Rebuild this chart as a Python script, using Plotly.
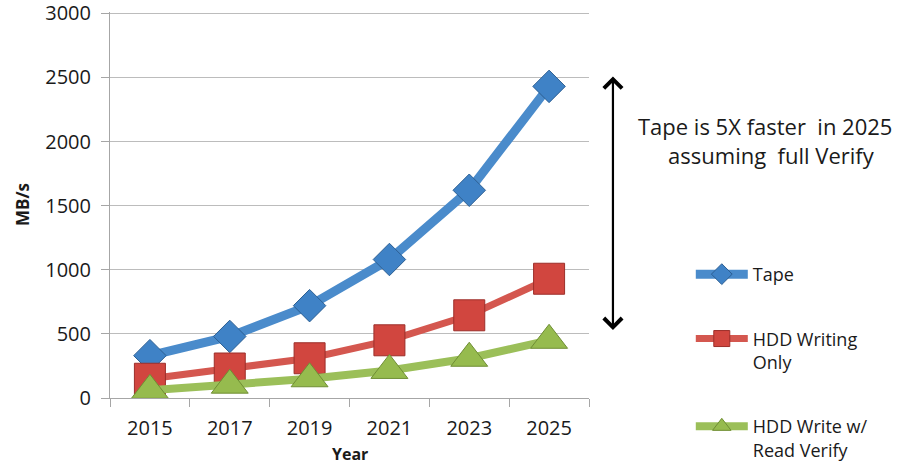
import plotly.graph_objects as go

# Throughput projections (MB/s) by year
years = ["2015", "2017", "2019", "2021", "2023", "2025"]
tape = [330, 480, 720, 1080, 1620, 2430]
hdd_write = [150, 230, 310, 450, 645, 930]
hdd_verify = [60, 100, 150, 215, 310, 450]

y_ticks = [0, 500, 1000, 1500, 2000, 2500, 3000]

FONT = "Open Sans"
TEXT = "#1a1a1a"
AXIS = "#a6a6a6"

fig = go.Figure()

fig.add_trace(go.Scatter(
    x=years, y=tape, name="Tape", mode="lines+markers",
    legendgroup="a",
    line=dict(color="#4a8bcb", width=9),
    marker=dict(symbol="diamond", size=25, color="#3f82c6",
                line=dict(color="#2c5f93", width=1)),
))
fig.add_trace(go.Scatter(
    x=years, y=hdd_write, name="HDD Writing<br>Only", mode="lines+markers",
    legendgroup="b",
    line=dict(color="#d4574f", width=7),
    marker=dict(symbol="square", size=31, color="#d1463f",
                line=dict(color="#9c2f2a", width=1)),
))
fig.add_trace(go.Scatter(
    x=years, y=hdd_verify, name="HDD Write w/<br>Read Verify", mode="lines+markers",
    legendgroup="c",
    line=dict(color="#9bbf59", width=8),
    marker=dict(symbol="triangle-up", size=32, color="#96bb4e",
                line=dict(color="#6f8e34", width=1)),
))

# Double-headed arrow spanning the gap between the curves in 2025
fig.add_annotation(
    xref="paper", yref="paper", x=1.05, y=0.833,
    axref="pixel", ayref="pixel", ax=0, ay=255,
    text="", showarrow=True,
    arrowside="end+start", arrowhead=4, startarrowhead=4,
    arrowsize=1.6, startarrowsize=1.6, arrowwidth=2.2, arrowcolor="#000000",
)
fig.add_annotation(
    xref="paper", yref="paper", x=1.368, y=0.666,
    xanchor="center", yanchor="middle", align="center",
    text="Tape is 5X faster\u00a0 in 2025<br>\u00a0 assuming\u00a0 full Verify",
    showarrow=False,
    font=dict(family=FONT, size=22, color=TEXT),
)

# Axis titles
fig.add_annotation(
    xref="paper", yref="paper", x=0.5, y=-0.145,
    xanchor="center", yanchor="middle", showarrow=False,
    text="<b>Year</b>", font=dict(family=FONT, size=16, color=TEXT),
)
fig.add_annotation(
    xref="paper", yref="paper", x=-0.1837, y=0.5,
    xanchor="center", yanchor="middle", showarrow=False, textangle=-90,
    text="<b>MB/s</b>", font=dict(family=FONT, size=17, color=TEXT),
)

fig.update_layout(
    width=903, height=464,
    margin=dict(l=110, r=314, t=12, b=66),
    paper_bgcolor="white", plot_bgcolor="white",
    font=dict(family=FONT, size=19, color=TEXT),
    showlegend=True,
    legend=dict(
        xref="container", yref="container",
        x=0.765, y=0.4484, xanchor="left", yanchor="top",
        valign="top", itemwidth=52, tracegroupgap=38,
        font=dict(family=FONT, size=18, color=TEXT),
        bgcolor="rgba(0,0,0,0)",
    ),
    xaxis=dict(
        type="category", range=[-0.5, 5.5], automargin=False,
        tickson="boundaries", ticks="outside", ticklen=8,
        tickcolor=AXIS, showline=True, linecolor=AXIS, linewidth=1,
        showgrid=False, zeroline=False, ticklabelstandoff=12,
        tickfont=dict(family=FONT, size=20, color=TEXT),
    ),
    yaxis=dict(
        range=[0, 3010], tickvals=y_ticks, automargin=False,
        ticks="outside", ticklen=8, tickcolor=AXIS,
        showline=True, linecolor=AXIS, linewidth=1,
        showgrid=True, gridcolor="#bcbcbc", gridwidth=1, zeroline=False,
        ticklabelstandoff=6, ticklabeloverflow="allow",
        tickfont=dict(family=FONT, size=20, color=TEXT),
    ),
)

fig.write_html("out.html")
